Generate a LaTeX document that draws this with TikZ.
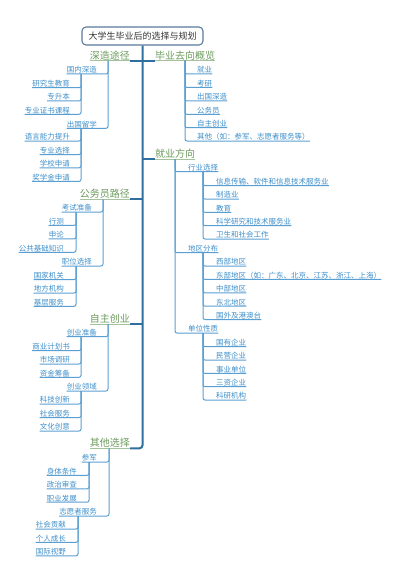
\documentclass[tikz,border=0pt]{standalone}
\usepackage{fontspec}
\setmainfont{Noto Sans CJK SC}
\usepackage{xcolor}
\usepackage{tikz}
\usetikzlibrary{positioning}
\definecolor{trunkblue}{HTML}{2E6FA0}
\definecolor{maingreen}{HTML}{6B9A5B}
\definecolor{leafblue}{HTML}{3D8EC9}
\definecolor{rootgray}{HTML}{5A7A99}
\tikzset{
    root node/.style={
        draw=rootgray,
        line width=1.1pt,
        rounded corners=4pt,
        minimum width=121pt,
        minimum height=18pt,
        inner sep=0pt,
        text=black!80,
        font=\fontsize{9}{10}\selectfont
    },
    main node/.style={
        inner xsep=0pt,
        inner ysep=0.3pt,
        text=maingreen,
        font=\fontsize{10}{11}\selectfont
    },
    leaf node/.style={
        inner xsep=0pt,
        inner ysep=0.3pt,
        text=leafblue,
        font=\fontsize{7.5}{8}\selectfont
    },
    trunk line/.style={draw=trunkblue, line width=2pt, rounded corners=3pt},
    main line/.style={draw=maingreen!60, line width=0.8pt},
    branch line/.style={draw=leafblue!85, line width=1pt, rounded corners=2pt}
}
\begin{document}
\begin{tikzpicture}[x=1pt,y=-1pt]
            \useasboundingbox (0,0) rectangle (400,583);
            \node[root node] (root) at (142.5,36) {大学生毕业后的选择与规划};
            % first level
            \foreach \n/\t/\y in {sz/深造途径/60.7,gwy/公务员路径/199.3,zz/自主创业/324,qt/其他选择/448.3}
              \node[main node,anchor=south east] (\n) at (130,\y) {\t};
            \foreach \n/\t/\y in {by/毕业去向概览/60.7,jy/就业方向/159}
              \node[main node,anchor=south west] (\n) at (155,\y) {\t};
            % second level, left
            \foreach \n/\t/\x/\y in {gn/国内深造/97/74,cg/出国留学/97/128.3,ks/考试准备/92/212,zw/职位选择/92/266,
                                     cz/创业准备/97/336.7,cl/创业领域/97/391,cj/参军/97/462,zy/志愿者服务/97/516}
              \node[leaf node,anchor=south east] (\n) at (\x,\y) {\t};
            % third level, left
            \foreach \n/\t/\x/\y in {s1/研究生教育/70/87.7,s2/专升本/70/101,s3/专业证书课程/70/114.3,
                                     c1/语言能力提升/70/141,c2/专业选择/70/154.6,c3/学校申请/70/167.8,c4/奖学金申请/70/181.4,
                                     k1/行测/64/225.4,k2/申论/64/238.9,k3/公共基础知识/64/252.3,
                                     w1/国家机关/64/279.6,w2/地方机构/64/293,w3/基层服务/64/306.3,
                                     z1/商业计划书/70/350.6,z2/市场调研/70/364,z3/资金筹备/70/377.3,
                                     l1/科技创新/70/404,l2/社会服务/70/417.6,l3/文化创意/70/431,
                                     j1/身体条件/77/475.3,j2/政治审查/77/488.8,j3/职业发展/77/502.2,
                                     y1/社会贡献/66/529,y2/个人成长/66/542.4,y3/国际视野/66/555.8}
              \node[leaf node,anchor=south east] (\n) at (\x,\y) {\t};
            % right side
            \foreach \n/\t/\x/\y in {b1/就业/197/74,b2/考研/197/87.5,b3/出国深造/197/101,b4/公务员/197/114.3,
                                     b5/自主创业/197/127.7,b6/其他（如：参军、志愿者服务等）/197/141,
                                     hx/行业选择/188/171.7,dq/地区分布/188/252.7,dw/单位性质/188/333,
                                     h1/信息传输、软件和信息技术服务业/216/185.6,h2/制造业/216/199,h3/教育/216/212.4,
                                     h4/科学研究和技术服务业/216/225.7,h5/卫生和社会工作/216/239,
                                     d1/西部地区/216/266,d2/东部地区（如：广东、北京、江苏、浙江、上海）/216/279.4,
                                     d3/中部地区/216/292.8,d4/东北地区/216/306.2,d5/国外及港澳台/216/319.5,
                                     u1/国有企业/216/346.6,u2/民营企业/216/360,u3/事业单位/216/373.4,
                                     u4/三资企业/216/386.7,u5/科研机构/216/400}
              \node[leaf node,anchor=south west] (\n) at (\x,\y) {\t};
            % where the branches hang
            \foreach \p/\x in {sz/108,gn/81,cg/81,gwy/103,ks/76,zw/76,zz/108,cz/81,cl/81,qt/109,cj/89,zy/78,
                               by/185,jy/175,hx/203,dq/203,dw/203}
              \coordinate (\p-v) at (\p.south -| \x,0);
            % trunk
            \draw[trunk line] (root.south) |- (qt.south east);
            \foreach \n in {sz,gwy,zz}
              \draw[trunk line] (\n.south east) -- (\n.south east -| root.south);
            \foreach \n in {by,jy}
              \draw[trunk line] (root.south |- \n.south west) -- (\n.south west);
            \foreach \n in {sz,gwy,zz,qt,by,jy}
              \draw[main line] (\n.south west) -- (\n.south east);
            % branches
            \foreach \c/\v in {gn/sz,cg/sz,s1/gn,s2/gn,s3/gn,c1/cg,c2/cg,c3/cg,c4/cg,
                               ks/gwy,zw/gwy,k1/ks,k2/ks,k3/ks,w1/zw,w2/zw,w3/zw,
                               cz/zz,cl/zz,z1/cz,z2/cz,z3/cz,l1/cl,l2/cl,l3/cl,
                               cj/qt,zy/qt,j1/cj,j2/cj,j3/cj,y1/zy,y2/zy,y3/zy}
              \draw[branch line] (\c.south west) -| (\v-v);
            \foreach \c/\v in {b1/by,b2/by,b3/by,b4/by,b5/by,b6/by,hx/jy,dq/jy,dw/jy,
                               h1/hx,h2/hx,h3/hx,h4/hx,h5/hx,d1/dq,d2/dq,d3/dq,d4/dq,d5/dq,
                               u1/dw,u2/dw,u3/dw,u4/dw,u5/dw}
              \draw[branch line] (\c.south east) -| (\v-v);
\end{tikzpicture}
\end{document}
